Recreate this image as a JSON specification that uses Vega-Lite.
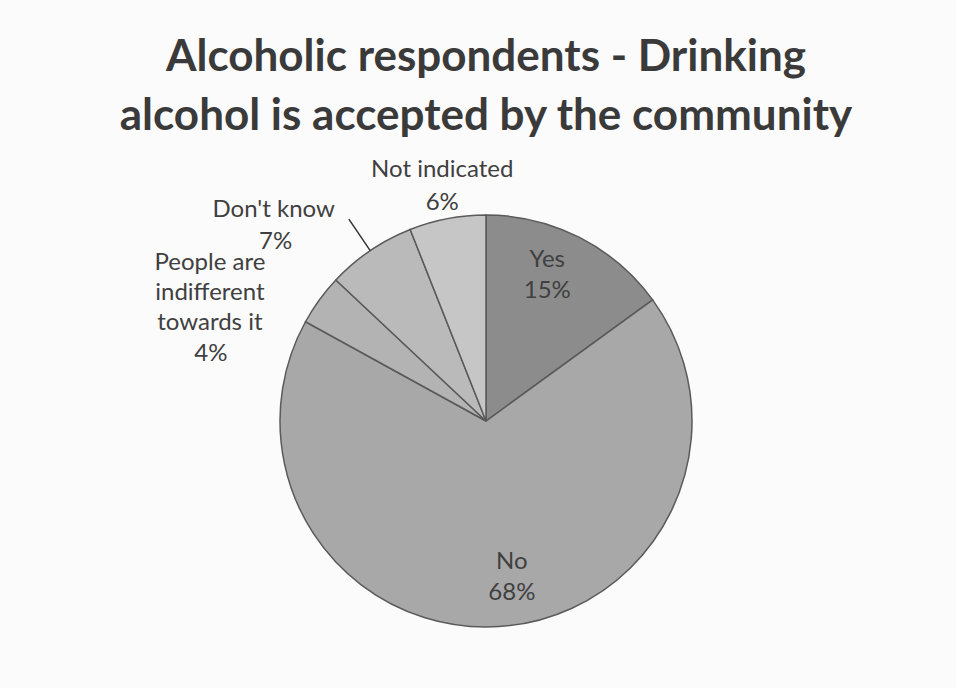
{
  "$schema": "https://vega.github.io/schema/vega-lite/v6.json",
  "width": 932,
  "height": 534,
  "autosize": "none",
  "padding": {"left": 20, "top": 154, "right": 4, "bottom": 0},
  "background": "#fbfbfb",
  "config": {"view": {"stroke": null}, "font": "Lato"},
  "title": {
    "text": ["Alcoholic respondents - Drinking", "alcohol is accepted by the community"],
    "font": "Lato",
    "fontSize": 44,
    "fontWeight": "bold",
    "color": "#3a3a3a",
    "anchor": "middle",
    "frame": "group",
    "lineHeight": 59,
    "offset": -11,
    "dy": -5
  },
  "data": {
    "values": [
      {"category": "Yes", "share": 0.15, "rank": 1},
      {"category": "No", "share": 0.68, "rank": 2},
      {"category": "People are\nindifferent\ntowards it", "share": 0.04, "rank": 3},
      {"category": "Don't know", "share": 0.07, "rank": 4},
      {"category": "Not indicated", "share": 0.06, "rank": 5}
    ]
  },
  "encoding": {
    "theta": {"field": "share", "type": "quantitative", "stack": true},
    "order": {"field": "rank", "type": "quantitative"}
  },
  "layer": [
    {
      "mark": {"type": "arc", "outerRadius": 206, "stroke": "#5a5a5a", "strokeWidth": 1.5},
      "encoding": {
        "color": {
          "field": "category",
          "type": "nominal",
          "legend": null,
          "scale": {
            "domain": ["Yes", "No", "People are\nindifferent\ntowards it", "Don't know", "Not indicated"],
            "range": ["#8c8c8c", "#a8a8a8", "#b3b3b3", "#bababa", "#c6c6c6"]
          }
        }
      }
    },
    {
      "mark": {"type": "arc", "outerRadius": 244, "innerRadius": 206, "padAngle": 1.2, "fill": null, "filled": false, "stroke": "#333333", "strokeWidth": 1.5},
      "encoding": {
        "strokeOpacity": {"condition": {"test": "datum.rank === 4", "value": 1}, "value": 0}
      }
    },
    {
      "mark": {"type": "text", "radius": 157, "dx": -10, "dy": -21, "fontSize": 24, "color": "#404040"},
      "encoding": {"text": {"condition": {"test": "datum.rank === 1", "field": "category", "type": "nominal"}, "value": ""}}
    },
    {
      "mark": {"type": "text", "radius": 157, "dx": -10, "dy": 10, "fontSize": 24, "color": "#404040"},
      "encoding": {"text": {"condition": {"test": "datum.rank === 1", "field": "share", "type": "quantitative", "format": ".0%"}, "value": ""}}
    },
    {
      "mark": {"type": "text", "radius": 157, "dx": 16, "dy": -16, "fontSize": 24, "color": "#404040"},
      "encoding": {"text": {"condition": {"test": "datum.rank === 2", "field": "category", "type": "nominal"}, "value": ""}}
    },
    {
      "mark": {"type": "text", "radius": 157, "dx": 16, "dy": 15, "fontSize": 24, "color": "#404040"},
      "encoding": {"text": {"condition": {"test": "datum.rank === 2", "field": "share", "type": "quantitative", "format": ".0%"}, "value": ""}}
    },
    {
      "mark": {"type": "text", "radius": 239, "dx": 1, "dy": -16, "fontSize": 24, "color": "#404040"},
      "encoding": {"text": {"condition": {"test": "datum.rank === 5", "field": "category", "type": "nominal"}, "value": ""}}
    },
    {
      "mark": {"type": "text", "radius": 239, "dx": 1, "dy": 17, "fontSize": 24, "color": "#404040"},
      "encoding": {"text": {"condition": {"test": "datum.rank === 5", "field": "share", "type": "quantitative", "format": ".0%"}, "value": ""}}
    },
    {
      "mark": {"type": "text", "radius": 287, "dx": -51, "dy": 26, "fontSize": 24, "color": "#404040"},
      "encoding": {"text": {"condition": {"test": "datum.rank === 4", "field": "category", "type": "nominal"}, "value": ""}}
    },
    {
      "mark": {"type": "text", "radius": 287, "dx": -49, "dy": 58, "fontSize": 24, "color": "#404040"},
      "encoding": {"text": {"condition": {"test": "datum.rank === 4", "field": "share", "type": "quantitative", "format": ".0%"}, "value": ""}}
    },
    {
      "mark": {"type": "text", "radius": 298, "dx": -35, "dy": 17, "fontSize": 24, "color": "#404040", "lineBreak": "\n", "lineHeight": 30},
      "encoding": {"text": {"condition": {"test": "datum.rank === 3", "field": "category", "type": "nominal"}, "value": ""}}
    },
    {
      "mark": {"type": "text", "radius": 298, "dx": -34, "dy": 108, "fontSize": 24, "color": "#404040"},
      "encoding": {"text": {"condition": {"test": "datum.rank === 3", "field": "share", "type": "quantitative", "format": ".0%"}, "value": ""}}
    }
  ]
}
